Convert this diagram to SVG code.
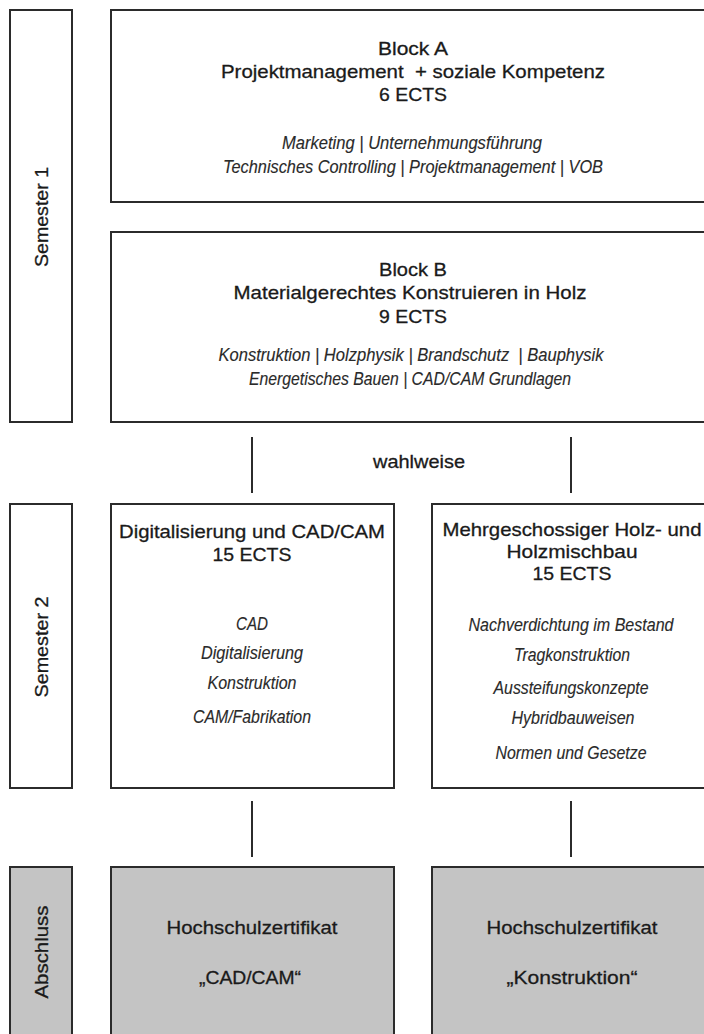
<svg xmlns="http://www.w3.org/2000/svg" width="704" height="1034" viewBox="0 0 704 1034">
<style>
.box{fill:#ffffff;stroke:#2b2b2b;stroke-width:2}
.gbox{fill:#c4c4c4;stroke:#2b2b2b;stroke-width:2}
.t{font-family:"Liberation Sans",Arial,sans-serif;font-size:19px;fill:#1a1a1a;stroke:#1a1a1a;stroke-width:0.3;text-anchor:middle}
.i{font-family:"Liberation Sans",Arial,sans-serif;font-size:19px;font-style:italic;fill:#2a2a2a;stroke:#2a2a2a;stroke-width:0.15;text-anchor:middle}
.conn line{stroke:#2b2b2b;stroke-width:2}
</style>
<rect width="704" height="1034" fill="#ffffff"/>

<g id="semester1">
<rect class="box" x="10" y="10" width="62" height="412"/>
<text class="t" transform="translate(48,217) rotate(-90)" textLength="100" lengthAdjust="spacingAndGlyphs">Semester 1</text>
</g>

<g id="blockA">
<rect class="box" x="111" y="10" width="610" height="192"/>
<text class="t" x="413" y="55" textLength="70" lengthAdjust="spacingAndGlyphs">Block A</text>
<text class="t" x="413" y="78" textLength="384" lengthAdjust="spacingAndGlyphs">Projektmanagement&#160; + soziale Kompetenz</text>
<text class="t" x="413" y="101" textLength="68" lengthAdjust="spacingAndGlyphs">6 ECTS</text>
<text class="i" x="412" y="149" textLength="260" lengthAdjust="spacingAndGlyphs">Marketing | Unternehmungsführung</text>
<text class="i" x="413" y="173" textLength="380" lengthAdjust="spacingAndGlyphs">Technisches Controlling | Projektmanagement | VOB</text>
</g>

<g id="blockB">
<rect class="box" x="111" y="232" width="610" height="190"/>
<text class="t" x="413" y="276" textLength="68" lengthAdjust="spacingAndGlyphs">Block B</text>
<text class="t" x="410" y="299" textLength="353" lengthAdjust="spacingAndGlyphs">Materialgerechtes Konstruieren in Holz</text>
<text class="t" x="413" y="323" textLength="68" lengthAdjust="spacingAndGlyphs">9 ECTS</text>
<text class="i" x="411" y="361" textLength="385" lengthAdjust="spacingAndGlyphs">Konstruktion | Holzphysik | Brandschutz&#160; | Bauphysik</text>
<text class="i" x="410" y="385" textLength="322" lengthAdjust="spacingAndGlyphs">Energetisches Bauen | CAD/CAM Grundlagen</text>
</g>

<g id="wahlweise">
<text class="t" x="419" y="468" textLength="92" lengthAdjust="spacingAndGlyphs">wahlweise</text>
</g>

<g id="semester2">
<rect class="box" x="10" y="504" width="62" height="284"/>
<text class="t" transform="translate(48,647) rotate(-90)" textLength="101" lengthAdjust="spacingAndGlyphs">Semester 2</text>
</g>

<g id="cadcam">
<rect class="box" x="111" y="504" width="283" height="284"/>
<text class="t" x="252" y="538" textLength="266" lengthAdjust="spacingAndGlyphs">Digitalisierung und CAD/CAM</text>
<text class="t" x="252" y="561" textLength="79" lengthAdjust="spacingAndGlyphs">15 ECTS</text>
<text class="i" x="252" y="630" textLength="32" lengthAdjust="spacingAndGlyphs">CAD</text>
<text class="i" x="252" y="659" textLength="102" lengthAdjust="spacingAndGlyphs">Digitalisierung</text>
<text class="i" x="252" y="689" textLength="89" lengthAdjust="spacingAndGlyphs">Konstruktion</text>
<text class="i" x="252" y="723" textLength="118" lengthAdjust="spacingAndGlyphs">CAM/Fabrikation</text>
</g>

<g id="holzbau">
<rect class="box" x="432" y="504" width="290" height="284"/>
<text class="t" x="572" y="536" textLength="259" lengthAdjust="spacingAndGlyphs">Mehrgeschossiger Holz- und</text>
<text class="t" x="572" y="558" textLength="131" lengthAdjust="spacingAndGlyphs">Holzmischbau</text>
<text class="t" x="572" y="580" textLength="79" lengthAdjust="spacingAndGlyphs">15 ECTS</text>
<text class="i" x="571" y="631" textLength="205" lengthAdjust="spacingAndGlyphs">Nachverdichtung im Bestand</text>
<text class="i" x="572" y="661" textLength="116" lengthAdjust="spacingAndGlyphs">Tragkonstruktion</text>
<text class="i" x="571" y="694" textLength="155" lengthAdjust="spacingAndGlyphs">Aussteifungskonzepte</text>
<text class="i" x="573" y="724" textLength="123" lengthAdjust="spacingAndGlyphs">Hybridbauweisen</text>
<text class="i" x="571" y="759" textLength="151" lengthAdjust="spacingAndGlyphs">Normen und Gesetze</text>
</g>

<g id="abschluss">
<rect class="gbox" x="10" y="867" width="62" height="180"/>
<text class="t" transform="translate(48,952) rotate(-90)" textLength="93" lengthAdjust="spacingAndGlyphs">Abschluss</text>
</g>

<g id="zert-cadcam">
<rect class="gbox" x="111" y="867" width="283" height="180"/>
<text class="t" x="252" y="934" textLength="171" lengthAdjust="spacingAndGlyphs">Hochschulzertifikat</text>
<text class="t" x="250" y="984" textLength="102" lengthAdjust="spacingAndGlyphs">„CAD/CAM“</text>
</g>

<g id="zert-konstruktion">
<rect class="gbox" x="432" y="867" width="290" height="180"/>
<text class="t" x="572" y="934" textLength="171" lengthAdjust="spacingAndGlyphs">Hochschulzertifikat</text>
<text class="t" x="572" y="984" textLength="131" lengthAdjust="spacingAndGlyphs">„Konstruktion“</text>
</g>

<g id="connectors" class="conn">
<line x1="252" y1="437" x2="252" y2="493"/>
<line x1="571" y1="437" x2="571" y2="493"/>
<line x1="252" y1="801" x2="252" y2="857"/>
<line x1="571" y1="801" x2="571" y2="857"/>
</g>
</svg>
